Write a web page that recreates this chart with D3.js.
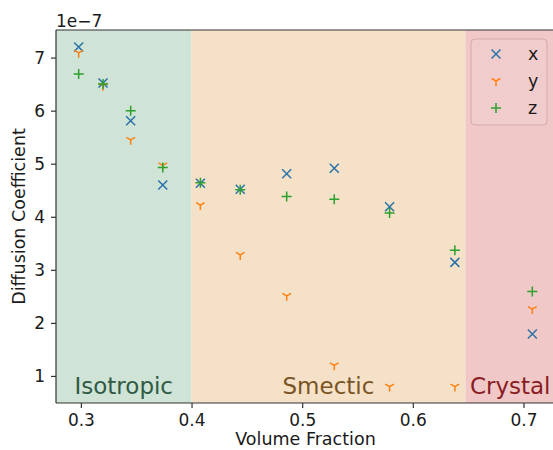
<!DOCTYPE html>
<html lang="en">
<head>
<meta charset="UTF-8">
<title>Diffusion Coefficient</title>
<style>
body { margin: 0; background: #fff; }
text { font-family: "DejaVu Sans", sans-serif; fill: #1a1a1a; }
.tick text { font-size: 17px; }
.axis path, .axis line { stroke: #333; stroke-width: 1.2px; }
</style>
</head>
<body>
<script src="https://cdnjs.cloudflare.com/ajax/libs/d3/7.8.5/d3.min.js"></script>
<script>
var fractions = [0.298, 0.320, 0.345, 0.374, 0.408, 0.444, 0.486, 0.529, 0.579, 0.638, 0.708];
var dx = [7.20, 6.52, 5.81, 4.60, 4.63, 4.52, 4.81, 4.915, 4.19, 3.14, 1.79];
var dy = [7.09, 6.47, 5.45, 4.97, 4.22, 3.28, 2.51, 1.20, 0.80, 0.80, 2.26];
var dz = [6.69, 6.50, 6.00, 4.93, 4.64, 4.51, 4.38, 4.33, 4.07, 3.37, 2.59];
var phases = ["Isotropic", "Smectic", "Crystal"];
var phaseEdges = [0.2775, 0.40, 0.6475, 0.7285];
var xTicks = [0.3, 0.4, 0.5, 0.6, 0.7];
var yTicks = [1, 2, 3, 4, 5, 6, 7];

var width = 553, height = 450;
var m = { left: 56, top: 30, right: 555, bottom: 403 };
var svg = d3.select("body").append("svg")
  .attr("width", width).attr("height", height);

var x = d3.scaleLinear().domain([0.2775, 0.7285]).range([m.left, m.right]);
var y = d3.scaleLinear().domain([0.49, 7.52]).range([m.bottom, m.top]);

// phase bands
var bandFill = ["#cfe3d6", "#f4e1c8", "#f0c8c8"];
var labelFill = ["#2f5a44", "#7a5424", "#8a1c22"];
phases.forEach(function (p, i) {
  svg.append("rect")
    .attr("x", x(phaseEdges[i])).attr("y", m.top)
    .attr("width", x(phaseEdges[i + 1]) - x(phaseEdges[i]))
    .attr("height", m.bottom - m.top)
    .attr("fill", bandFill[i]);
  svg.append("text")
    .attr("x", x((phaseEdges[i] + phaseEdges[i + 1]) / 2))
    .attr("y", y(0.66))
    .attr("text-anchor", "middle")
    .style("font-size", "23px")
    .style("fill", labelFill[i])
    .text(p);
});

// markers
var series = [
  { name: "x", vals: dx, color: "#2a72a8", shape: "x" },
  { name: "y", vals: dy, color: "#ff7f0e", shape: "tri" },
  { name: "z", vals: dz, color: "#2ca02c", shape: "plus" }
];
function markerPath(shape) {
  if (shape == "x") return "M-4.5,-4.5L4.5,4.5M-4.5,4.5L4.5,-4.5";
  if (shape == "plus") return "M-5,0L5,0M0,-5L0,5";
  return "M0,0L0,5M0,0L-4.3,-2.5M0,0L4.3,-2.5";
}
series.forEach(function (s) {
  svg.append("g").selectAll("path")
    .data(s.vals)
    .join("path")
    .attr("transform", function (d, i) { return "translate(" + x(fractions[i]) + "," + y(d) + ")"; })
    .attr("d", markerPath(s.shape))
    .attr("stroke", s.color)
    .attr("stroke-width", 1.5)
    .attr("fill", "none");
});

// axes
svg.append("g").attr("class", "axis")
  .attr("transform", "translate(0," + m.bottom + ")")
  .call(d3.axisBottom(x).tickValues(xTicks).tickFormat(d3.format(".1f")).tickSize(5).tickPadding(6))
  .call(function (g) { g.select(".domain").attr("d", "M" + m.left + ",0H" + m.right); });
svg.append("g").attr("class", "axis")
  .attr("transform", "translate(" + m.left + ",0)")
  .call(d3.axisLeft(y).tickValues(yTicks).tickFormat(d3.format("d")).tickSize(5).tickPadding(6))
  .call(function (g) { g.select(".domain").attr("d", "M0," + m.top + "V" + m.bottom); });
svg.append("line")
  .attr("x1", m.left).attr("x2", m.right).attr("y1", m.top).attr("y2", m.top)
  .attr("stroke", "#333").attr("stroke-width", 1.2);
svg.append("line")
  .attr("x1", m.right).attr("x2", m.right).attr("y1", m.top).attr("y2", m.bottom)
  .attr("stroke", "#333").attr("stroke-width", 1.2);

svg.append("text").attr("x", m.left).attr("y", 27)
  .style("font-size", "17px").text("1e\u22127");

svg.append("text")
  .attr("x", (m.left + m.right) / 2).attr("y", 445)
  .attr("text-anchor", "middle").style("font-size", "17.5px")
  .text("Volume Fraction");
svg.append("text")
  .attr("transform", "translate(25," + (m.top + m.bottom) / 2 + ") rotate(-90)")
  .attr("text-anchor", "middle").style("font-size", "17.5px")
  .text("Diffusion Coefficient");

// legend
var leg = svg.append("g").attr("transform", "translate(471,39)");
leg.append("rect")
  .attr("width", 76).attr("height", 86).attr("rx", 4)
  .attr("fill", "#f2cfcf").attr("fill-opacity", 0.6)
  .attr("stroke", "#d4aaaa").attr("stroke-width", 1);
series.forEach(function (s, i) {
  var row = leg.append("g").attr("transform", "translate(25," + (15 + i * 27) + ")");
  row.append("path").attr("d", markerPath(s.shape))
    .attr("stroke", s.color).attr("stroke-width", 1.5).attr("fill", "none");
  row.append("text").attr("x", 32).attr("y", 6)
    .style("font-size", "17.5px").text(s.name);
});
</script>
</body>
</html>
